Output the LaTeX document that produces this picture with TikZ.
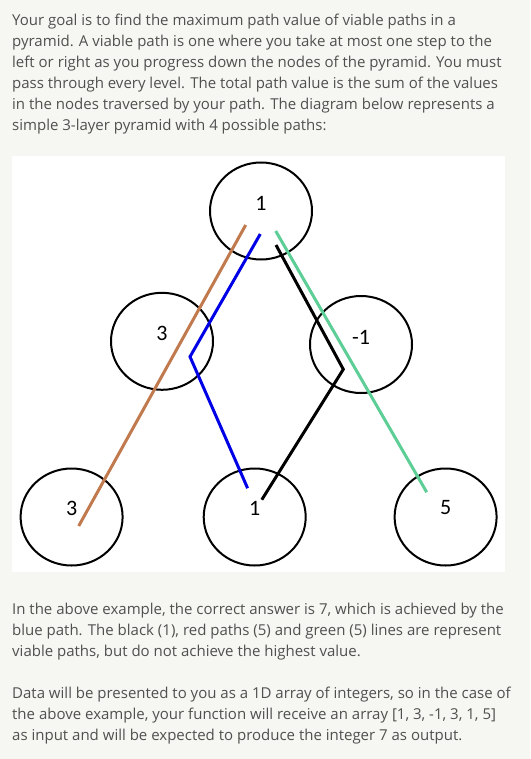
\documentclass[tikz,border=0pt]{standalone}
\usepackage{fontspec}
\setmainfont{Open Sans}
\newfontfamily\digitfont{Carlito}
\usetikzlibrary{calc,shapes.geometric}
\definecolor{pagebg}{RGB}{246,246,242}
\definecolor{bodytext}{RGB}{80,80,80}
\definecolor{pathbrown}{RGB}{193,121,78}
\definecolor{pathblue}{RGB}{0,0,230}
\definecolor{pathgreen}{RGB}{92,206,150}
\begin{document}
\begin{tikzpicture}[x=1pt,y=-1pt,
  txtline/.style={anchor=base west, inner sep=0, text=bodytext, font=\fontsize{15}{21}\selectfont},
  pnode/.style={draw=black, line width=2pt, ellipse, minimum width=102pt, minimum height=97pt, inner sep=0},
  digit/.style={font=\digitfont\fontsize{22}{24}\selectfont, inner sep=0, text=black},
  pathline/.style={line width=3pt}]
\fill[pagebg] (0,0) rectangle (530,759);
\fill[white] (12,156) rectangle (505,572);
% text above
\node[txtline] (t1) at (12,26) {Your goal is to find the maximum path value of viable paths in a};
\node[txtline] (t2) at (12,47) {pyramid. A viable path is one where you take at most one step to the};
\node[txtline] (t3) at (12,68) {left or right as you progress down the nodes of the pyramid. You must};
\node[txtline] (t4) at (12,89) {pass through every level. The total path value is the sum of the values};
\node[txtline] (t5) at (12,110) {in the nodes traversed by your path. The diagram below represents a};
\node[txtline] (t6) at (12,131) {simple 3-layer pyramid with 4 possible paths:};
% text below
\node[txtline] (t7) at (12,614) {In the above example, the correct answer is 7, which is achieved by the};
\node[txtline] (t8) at (12,635) {blue path. The black (1), red paths (5) and green (5) lines are represent};
\node[txtline] (t9) at (12,656) {viable paths, but do not achieve the highest value.};
\node[txtline] (t10) at (12,698.5) {Data will be presented to you as a 1D array of integers, so in the case of};
\node[txtline] (t11) at (12,719.5) {the above example, your function will receive an array [1, 3, -1, 3, 1, 5]};
\node[txtline] (t12) at (12,740.5) {as input and will be expected to produce the integer 7 as output.};
% pyramid nodes
\node[pnode] (top) at (261,211) {};
\node[pnode] (ml) at (162,341.3) {};
\node[pnode] (mr) at (361,344.5) {};
\node[pnode] (bl) at (71.6,517) {};
\node[pnode] (bm) at (254.7,517) {};
\node[pnode] (br) at (445.6,517) {};
\node[digit] (dtop) at ($(top)+(0,-8)$) {1};
\node[digit] (dml) at ($(ml)+(0,-8.3)$) {3};
\node[digit] (dmr) at ($(mr)+(0,-7.5)$) {-1};
\node[digit] (dbl) at ($(bl)+(0,-9)$) {3};
\node[digit] (dbm) at ($(bm)+(0,-9)$) {1};
\node[digit] (dbr) at ($(br)+(0,-9)$) {5};
% paths
\draw[pathline, pathbrown] ($(top)+(-15.3,14)$) -- ($(bl)+(7.1,9)$);
\draw[pathline, pathblue] ($(top)+(-0.7,23)$) -- ($(ml)+(28,15.4)$) -- ($(bm)+(-7.1,-28.8)$);
\draw[pathline, black] ($(top)+(15,34)$) -- ($(mr)+(-17.7,24.8)$) -- ($(bm)+(7.1,-17.3)$);
\draw[pathline, pathgreen] ($(top)+(14.7,20)$) -- ($(br)+(-18.9,-24.8)$);
\end{tikzpicture}
\end{document}
